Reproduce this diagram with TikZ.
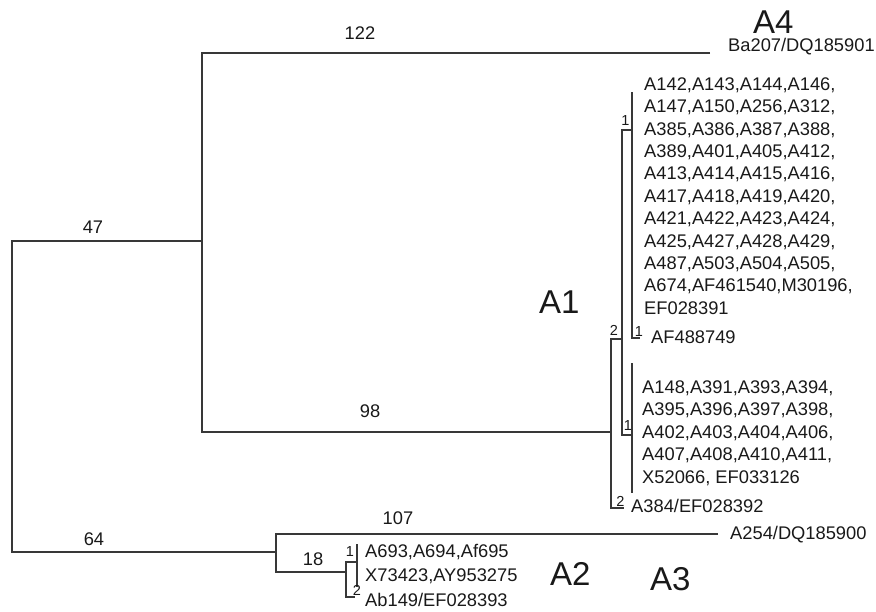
\documentclass[tikz,border=0pt]{standalone}
\usepackage{fontspec}
\setmainfont{Liberation Sans}
\begin{document}
\begin{tikzpicture}[x=1pt,y=-1pt,
  branch/.style={draw=black!78, line width=1.2pt},
  leaf/.style={anchor=base west, inner sep=0pt, font=\fontsize{18.3}{21}\selectfont, text=black!90},
  blen/.style={anchor=base, inner sep=0pt, font=\fontsize{18.3}{21}\selectfont, text=black!90},
  supp/.style={anchor=base, inner sep=0pt, font=\fontsize{14.5}{16}\selectfont, text=black!90},
  clade/.style={anchor=base west, inner sep=0pt, font=\fontsize{33}{38}\selectfont, text=black!90}]
\useasboundingbox (0,0) rectangle (876,611);
% tree points
\coordinate (R1) at (12,241);  \coordinate (R2) at (12,552);
\coordinate (B0) at (202,241); \coordinate (B1) at (202,53); \coordinate (B2) at (202,432);
\coordinate (T4) at (710,53);
\coordinate (C0) at (611,432); \coordinate (C1) at (611,339); \coordinate (C2) at (611,508);
\coordinate (G) at (624,508);
\coordinate (D0) at (622,339); \coordinate (D1) at (622,130); \coordinate (D2) at (622,435);
\coordinate (E1) at (632,130); \coordinate (Etop) at (632,92); \coordinate (Ebot) at (632,338);
\coordinate (Ehook) at (640,338);
\coordinate (F1) at (632,435); \coordinate (Ftop) at (632,363); \coordinate (Fbot) at (632,493);
\coordinate (H0) at (276,552); \coordinate (H1) at (276,534); \coordinate (H2) at (276,572);
\coordinate (T3) at (718,534);
\coordinate (I0) at (346,572); \coordinate (I1) at (346,562); \coordinate (I2) at (346,597);
\coordinate (J1) at (357,562); \coordinate (Jtop) at (357,544); \coordinate (Jbot) at (357,587);
\coordinate (K) at (355,597);
% branches
\draw[branch] (B0) -- (R1) -- (R2) -- (H0);
\draw[branch] (T4) -- (B1) -- (B2) -- (C0);
\draw[branch] (D0) -- (C1) -- (C2) -- (G);
\draw[branch] (E1) -- (D1) -- (D2) -- (F1);
\draw[branch] (Etop) -- (Ebot) -- (Ehook);
\draw[branch] (Ftop) -- (Fbot);
\draw[branch] (T3) -- (H1) -- (H2) -- (I0);
\draw[branch] (J1) -- (I1) -- (I2) -- (K);
\draw[branch] (Jtop) -- (Jbot);
% branch lengths
\node[blen] (l122) at (360,39.5) {122};
\node[blen] (l47) at (93,233) {47};
\node[blen] (l98) at (370,417) {98};
\node[blen] (l64) at (94,545) {64};
\node[blen] (l107) at (398,524) {107};
\node[blen] (l18) at (313,565) {18};
% support values
\node[supp] (s1) at (625.5,125) {1};
\node[supp] (s2) at (614,335) {2};
\node[supp] (s3) at (639,336) {1};
\node[supp] (s4) at (628,430) {1};
\node[supp] (s5) at (620.5,506) {2};
\node[supp] (s6) at (350,556) {1};
\node[supp] (s7) at (357,595) {2};
% leaves
\node[leaf] (ba207) at (728,51.5) {Ba207/DQ185901};
\foreach \t [count=\i from 0] in {{A142,A143,A144,A146,},{A147,A150,A256,A312,},{A385,A386,A387,A388,},{A389,A401,A405,A412,},{A413,A414,A415,A416,},{A417,A418,A419,A420,},{A421,A422,A423,A424,},{A425,A427,A428,A429,},{A487,A503,A504,A505,},{A674,AF461540,M30196,},{EF028391}}
  \node[leaf] (top\i) at (644,90.3+22.4*\i) {\t};
\node[leaf] (af488) at (651,343) {AF488749};
\foreach \t [count=\i from 0] in {{A148,A391,A393,A394,},{A395,A396,A397,A398,},{A402,A403,A404,A406,},{A407,A408,A410,A411,},{X52066, EF033126}}
  \node[leaf] (bot\i) at (642,393+22.5*\i) {\t};
\node[leaf] (a384) at (631,512) {A384/EF028392};
\node[leaf] (a254) at (730,539) {A254/DQ185900};
\node[leaf] (a693) at (365,557) {A693,A694,Af695};
\node[leaf] (x73) at (365,581) {X73423,AY953275};
\node[leaf] (ab149) at (365,606) {Ab149/EF028393};
% clade names
\node[clade] (cA4) at (753,33) {A4};
\node[clade] (cA1) at (539,313) {A1};
\node[clade] (cA2) at (550,585) {A2};
\node[clade] (cA3) at (650,590) {A3};
\end{tikzpicture}
\end{document}
